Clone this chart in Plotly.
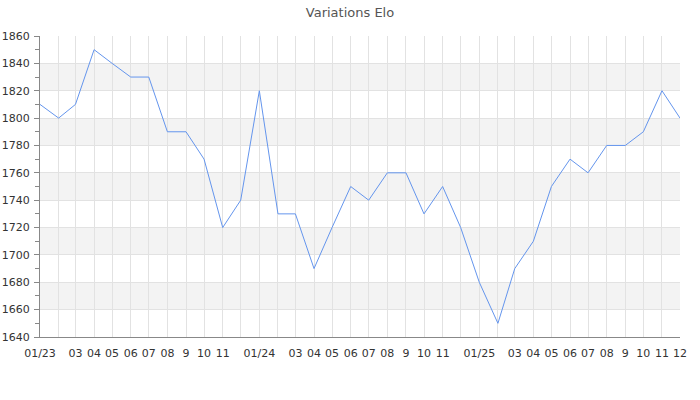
import plotly.graph_objects as go
import pandas as pd

months = pd.date_range("2023-01-01", "2025-12-01", freq="MS")
elo = [1810, 1800, 1810, 1850, 1840, 1830, 1830, 1790, 1790, 1770, 1720, 1740,
       1820, 1730, 1730, 1690, 1720, 1750, 1740, 1760, 1760, 1730, 1750, 1720,
       1680, 1650, 1690, 1710, 1750, 1770, 1760, 1780, 1780, 1790, 1820, 1800]
tick_text = ["01/23", "", "03", "04", "05", "06", "07", "08", "9", "10", "11", "",
             "01/24", "", "03", "04", "05", "06", "07", "08", "9", "10", "11", "",
             "01/25", "", "03", "04", "05", "06", "07", "08", "9", "10", "11", "12"]
y_min, y_max, y_step = 1640, 1860, 20

fig = go.Figure()
fig.add_trace(go.Scatter(x=months, y=elo, mode="lines",
                         line=dict(color="#6495ED", width=1), hoverinfo="x+y"))

# alternating bands
shapes = []
band_starts = list(range(y_min + y_step, y_max, 2 * y_step))
for b in band_starts:
    shapes.append(dict(type="rect", xref="paper", yref="y", x0=0, x1=1, y0=b, y1=b + y_step,
                       fillcolor="#f3f3f3", line=dict(width=0), layer="below"))

fig.update_layout(
    width=700, height=400,
    margin=dict(l=40, r=20, t=36, b=63),
    paper_bgcolor="white", plot_bgcolor="white",
    font=dict(family="DejaVu Sans", size=11, color="#333"),
    title=dict(text="Variations Elo", x=0.5, xanchor="center", y=0.97, yanchor="middle",
               font=dict(size=13, color="#555")),
    showlegend=False,
    shapes=shapes,
    xaxis=dict(type="date", range=[months[0], months[-1]], tickvals=list(months),
               ticktext=tick_text, showgrid=True, gridcolor="#e2e2e2", gridwidth=1,
               showline=True, linecolor="#888", linewidth=1, ticks="", zeroline=False,
               ticklabelstandoff=6, automargin=False,
               tickfont=dict(size=11, color="#333")),
    yaxis=dict(range=[y_min, y_max], dtick=y_step, tick0=y_min, showgrid=True,
               gridcolor="#e2e2e2", gridwidth=1, showline=True, linecolor="#888",
               linewidth=1, ticks="outside", ticklen=5, tickcolor="#888", zeroline=False,
               ticklabelstandoff=2, automargin=False,
               minor=dict(dtick=10, ticks="outside", ticklen=4, tickcolor="#888", showgrid=False),
               tickfont=dict(size=11, color="#333")),
)

fig.write_html("out.html", config={"displayModeBar": False},
               post_script="document.body.style.margin='0';")
